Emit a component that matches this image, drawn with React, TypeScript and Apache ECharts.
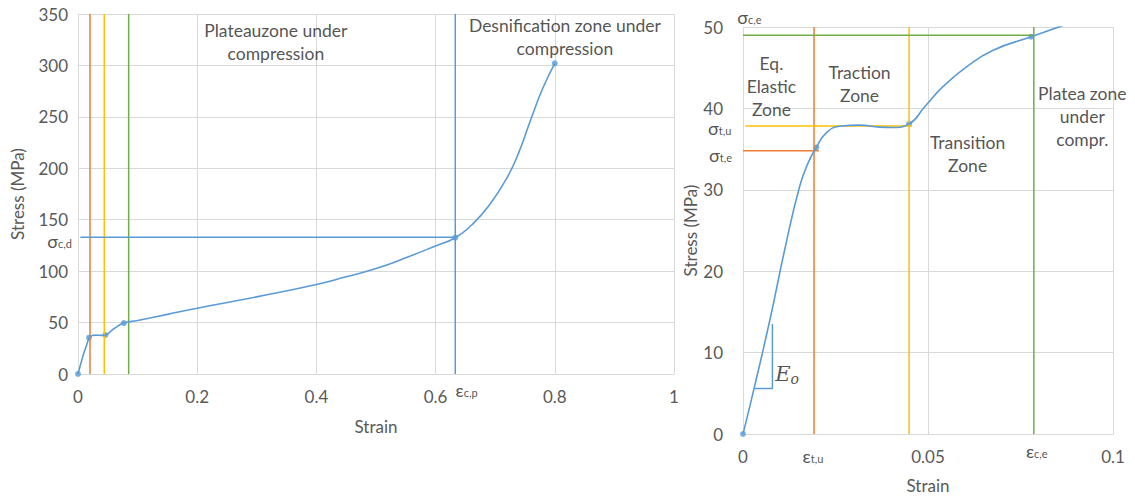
import React, { useEffect, useRef } from "react";
import * as echarts from "echarts";

// ---------------- DATA ----------------
// Left chart: full stress-strain curve
const leftCurve: [number, number][] = [
  [0, 0], [0.0185, 35.3], [0.024, 37.4], [0.03, 37.8], [0.04, 37.6], [0.046, 38],
  [0.06, 44], [0.077, 49.5], [0.1, 52], [0.15, 58], [0.2, 64], [0.3, 75],
  [0.4, 87], [0.45, 94.5], [0.5, 102.5], [0.55, 113], [0.6, 124.5], [0.633, 132.5],
  [0.66, 144.6], [0.69, 164], [0.72, 191], [0.74, 216], [0.76, 248], [0.78, 278], [0.8, 302],
];
const leftMarkers: [number, number][] = [
  [0, 0], [0.0185, 35.3], [0.046, 38], [0.077, 49.5], [0.633, 132.5], [0.8, 302],
];
const leftStrainMarks: number[] = [0.0201, 0.0441, 0.085]; // orange, yellow, green
const leftPlateauStress = 133; // sigma c,d
const leftPlateauStart = 0.004;
const leftDensStrain = 0.633; // epsilon c,p
const leftZoneTexts: string[] = ["Plateauzone under\ncompression", "Desnification zone under\ncompression"];
const leftZoneAnchors: [number, number][] = [[0.332, 322.5], [0.817, 328]];

// Right chart: zoom on the beginning of the curve
const rightCurve: [number, number][] = [
  [0, 0], [0.003, 5.6], [0.0075, 14.5], [0.0113, 22.7], [0.0153, 30.4], [0.0176, 33.3],
  [0.0198, 35.2], [0.0225, 37.0], [0.0261, 37.8], [0.0315, 37.95], [0.0369, 37.7],
  [0.0405, 37.65], [0.0449, 38.1], [0.0491, 40.2], [0.0541, 42.7], [0.0604, 45.1],
  [0.0676, 47.15], [0.0779, 48.8], [0.0865, 50.2],
];
const rightMarkers: [number, number][] = [[0, 0], [0.0198, 35.2], [0.0449, 38.1], [0.0779, 48.8]];
const rightStrainMarks: number[] = [0.0192, 0.0449, 0.0786]; // eps t,u ; yellow ; eps c,e
const rightStressMarks: number[] = [34.8, 37.85, 49.0]; // sigma t,e ; sigma t,u ; sigma c,e
const rightStressMarkStart: number[] = [0, 0.0006, 0];
const rightStressMarkEnd: number[] = [0.0205, 0.0457, 0.0786];
const eoTriangle: [number, number][] = [[0.0029, 5.59], [0.00795, 5.59], [0.00795, 13.5]];
const rightZoneTexts: string[] = [
  "Eq.\nElastic\nZone", "Traction\nZone", "Transition\nZone", "Platea zone\nunder\ncompr.",
];
const rightZoneAnchors: [number, number][] = [[0.00768, 42.75], [0.0315, 43.05], [0.0607, 34.4], [0.0917, 38.96]];

// Symbol labels: [main, subscript]
const leftSymLabels: [string, string][] = [["σ", "c,d"], ["ε", "c,p"]];
const leftSymAnchors: [number, number][] = [[-0.031, 129.3], [0.652, -15.6]];
const rightSymLabels: [string, string][] = [["σ", "c,e"], ["σ", "t,u"], ["σ", "t,e"], ["ε", "t,u"], ["ε", "c,e"]];
const rightSymAnchors: [number, number][] = [[0.00176, 51.2], [-0.0063, 37.6], [-0.0061, 34.3], [0.0189, -2.7], [0.0794, -2.1]];
const eoLabel: [string, string] = ["E", "o"];
const eoAnchor: [number, number] = [0.0119, 7.4];

// ---------------- STYLE ----------------
const FONT = 'Lato, "Open Sans", sans-serif';
const GRID = "#d9d9d9";
const TICK = "#595959";
const TEXT = "#262626";
const BLUE = "#5B9BD5";
const ORANGE = "#ED7D31";
const YELLOW = "#FFC000";
const GREEN = "#70AD47";
const MARK_COLORS = [ORANGE, YELLOW, GREEN];

const rich: any = {
  m: { fontSize: 18, lineHeight: 16, color: TEXT, fontFamily: FONT },
  s: { fontSize: 11, lineHeight: 11, verticalAlign: "bottom", color: TEXT, fontFamily: FONT },
  e: { fontSize: 21, lineHeight: 24, color: TEXT, fontFamily: '"DejaVu Serif", "Liberation Serif", serif', fontStyle: "italic" },
  es: { fontSize: 14, lineHeight: 14, verticalAlign: "bottom", color: TEXT, fontFamily: '"DejaVu Serif", "Liberation Serif", serif', fontStyle: "italic" },
};

function lineSeries(data: [number, number][], color: string, idx: number, width = 1.5, smooth = false) {
  return {
    type: "line",
    xAxisIndex: idx,
    yAxisIndex: idx,
    data,
    symbol: "none",
    smooth,
    silent: true,
    lineStyle: { color, width },
  };
}

function labelSeries(idx: number, items: { value: [number, number]; text: string }[]) {
  return {
    type: "scatter",
    xAxisIndex: idx,
    yAxisIndex: idx,
    symbolSize: 1,
    clip: false,
    silent: true,
    itemStyle: { color: "rgba(0,0,0,0)" },
    data: items.map((it) => ({
      value: it.value,
      label: {
        show: true,
        position: "inside",
        align: "center",
        verticalAlign: "middle",
        formatter: it.text,
        color: TEXT,
        fontFamily: FONT,
        fontSize: 17.5,
        lineHeight: 23,
        rich,
      },
    })),
  };
}

function axisCommon() {
  return {
    type: "value",
    axisLine: { show: true, lineStyle: { color: GRID, width: 1 } },
    axisTick: { show: false },
    splitLine: { show: true, lineStyle: { color: GRID, width: 1 } },
    axisLabel: { color: TICK, fontSize: 17, fontFamily: FONT },
    nameLocation: "middle",
    nameTextStyle: { color: TICK, fontSize: 17, fontFamily: FONT },
  };
}

export default function App() {
  const ref = useRef<HTMLDivElement>(null);
  useEffect(() => {
    document.body.style.margin = "0";
    const chart = echarts.init(ref.current!, undefined, { renderer: "svg" });

    const series: any[] = [];
    // Left reference lines
    leftStrainMarks.forEach((x, i) => {
      series.push(lineSeries([[x, 0], [x, 350]], MARK_COLORS[i], 0, 1.5));
    });
    series.push(lineSeries([[leftPlateauStart, leftPlateauStress], [leftDensStrain, leftPlateauStress]], BLUE, 0, 1.5));
    series.push(lineSeries([[leftDensStrain, 0], [leftDensStrain, 350]], BLUE, 0, 1.5));
    // Left curve + markers
    series.push(lineSeries(leftCurve, BLUE, 0, 1.6, true));
    series.push({
      type: "scatter", xAxisIndex: 0, yAxisIndex: 0, data: leftMarkers, symbolSize: 6,
      itemStyle: { color: BLUE }, silent: true,
    });

    // Right reference lines
    rightStrainMarks.forEach((x, i) => {
      series.push(lineSeries([[x, 0], [x, 50]], MARK_COLORS[i], 1, 1.5));
    });
    rightStressMarks.forEach((y, i) => {
      series.push(lineSeries([[rightStressMarkStart[i], y], [rightStressMarkEnd[i], y]], MARK_COLORS[i], 1, 1.5));
    });
    series.push(lineSeries(eoTriangle, BLUE, 1, 1.5));
    series.push(lineSeries(rightCurve, BLUE, 1, 1.6, true));
    series.push({
      type: "scatter", xAxisIndex: 1, yAxisIndex: 1, data: rightMarkers, symbolSize: 6,
      itemStyle: { color: BLUE }, silent: true,
    });

    // Text annotations
    series.push(labelSeries(0, [
      ...leftZoneTexts.map((t, i) => ({ value: leftZoneAnchors[i], text: t })),
      ...leftSymLabels.map((l, i) => ({ value: leftSymAnchors[i], text: `{m|${l[0]}}{s|${l[1]}}` })),
    ]));
    series.push(labelSeries(1, [
      ...rightZoneTexts.map((t, i) => ({ value: rightZoneAnchors[i], text: t })),
      ...rightSymLabels.map((l, i) => ({ value: rightSymAnchors[i], text: `{m|${l[0]}}{s|${l[1]}}` })),
      { value: eoAnchor, text: `{e|${eoLabel[0]}}{es|${eoLabel[1]}}` },
    ]));

    chart.setOption({
      animation: false,
      backgroundColor: "#ffffff",
      grid: [
        { left: 78, top: 14, width: 596, height: 360 },
        { left: 743, top: 27, width: 370, height: 409 },
      ],
      xAxis: [
        { ...axisCommon(), gridIndex: 0, min: 0, max: 1, interval: 0.2, name: "Strain", nameGap: 44,
          axisLabel: { ...axisCommon().axisLabel, margin: 14 } },
        { ...axisCommon(), gridIndex: 1, min: 0, max: 0.1, interval: 0.05, name: "Strain", nameGap: 43,
          axisLabel: { ...axisCommon().axisLabel, margin: 14 } },
      ],
      yAxis: [
        { ...axisCommon(), gridIndex: 0, min: 0, max: 350, interval: 50, name: "Stress (MPa)", nameGap: 52,
          axisLine: { show: false }, axisLabel: { ...axisCommon().axisLabel, margin: 10 } },
        { ...axisCommon(), gridIndex: 1, min: 0, max: 50, interval: 10, name: "Stress (MPa)", nameGap: 43,
          axisLine: { show: false }, axisLabel: { ...axisCommon().axisLabel, margin: 20, lineHeight: 14 } },
      ],
      series,
    });
    return () => chart.dispose();
  }, []);
  return <div ref={ref} style={{ width: 1135, height: 499 }} />;
}
